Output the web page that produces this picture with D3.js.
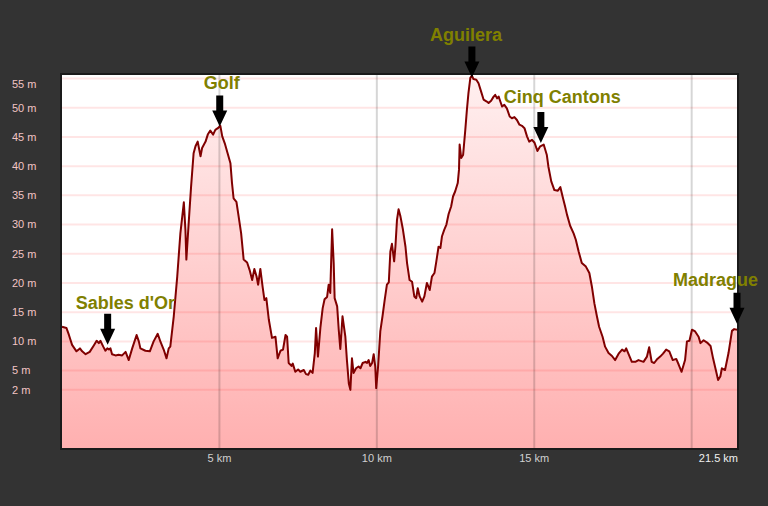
<!DOCTYPE html>
<html>
<head>
<meta charset="utf-8">
<script src="https://cdn.jsdelivr.net/npm/d3@7"></script>
<style>
  html, body { margin: 0; padding: 0; background: #333333; }
  svg { display: block; }
</style>
</head>
<body>
<svg id="chart" width="768" height="506"></svg>
<script>
// ---- Data ----
const distKm = [0.00,0.14,0.22,0.32,0.46,0.57,0.64,0.75,0.88,1.01,
1.10,1.17,1.22,1.31,1.38,1.44,1.49,1.54,1.59,1.70,
1.80,1.91,2.02,2.12,2.23,2.37,2.44,2.49,2.65,2.79,
2.91,3.04,3.13,3.23,3.32,3.39,3.44,3.55,3.66,3.76,
3.87,3.92,3.95,4.03,4.10,4.18,4.24,4.31,4.40,4.45,
4.56,4.63,4.71,4.80,4.87,4.95,5.03,5.09,5.17,5.26,
5.35,5.40,5.45,5.54,5.61,5.69,5.77,5.88,5.96,6.04,
6.11,6.18,6.23,6.30,6.37,6.43,6.49,6.57,6.67,6.78,
6.85,6.94,7.02,7.10,7.15,7.20,7.29,7.33,7.41,7.50,
7.57,7.68,7.75,7.82,7.89,7.96,8.03,8.07,8.13,8.21,
8.28,8.34,8.42,8.47,8.52,8.58,8.63,8.66,8.74,8.79,
8.84,8.91,9.00,9.05,9.11,9.16,9.21,9.26,9.34,9.42,
9.48,9.55,9.64,9.69,9.74,9.79,9.85,9.90,9.95,9.98,
10.04,10.11,10.18,10.25,10.32,10.38,10.43,10.48,10.55,10.59,
10.64,10.69,10.75,10.83,10.91,10.96,11.04,11.12,11.19,11.25,
11.30,11.36,11.44,11.51,11.59,11.68,11.75,11.83,11.89,11.96,
12.02,12.07,12.14,12.21,12.28,12.36,12.42,12.49,12.57,12.61,
12.63,12.68,12.74,12.81,12.86,12.91,12.97,13.02,13.07,13.16,
13.23,13.31,13.39,13.48,13.55,13.63,13.71,13.76,13.82,13.87,
13.92,13.98,14.05,14.13,14.22,14.29,14.37,14.45,14.53,14.61,
14.69,14.77,14.84,14.93,15.01,15.10,15.19,15.30,15.40,15.45,
15.54,15.64,15.75,15.83,15.90,15.98,16.04,16.14,16.25,16.32,
16.41,16.51,16.64,16.75,16.83,16.91,16.99,17.06,17.17,17.25,
17.36,17.47,17.57,17.68,17.79,17.87,17.92,17.99,18.10,18.21,
18.31,18.47,18.58,18.65,18.73,18.81,18.91,19.00,19.09,19.19,
19.29,19.40,19.51,19.59,19.68,19.79,19.85,19.93,20.01,20.11,
20.22,20.28,20.38,20.49,20.60,20.68,20.78,20.84,20.91,20.96,
21.06,21.17,21.28,21.35,21.44];

const elevM = [12.5,12.3,11.1,9.4,8.3,8.8,8.3,7.8,8.2,9.3,
10.1,9.7,10.1,9.1,8.4,8.8,8.6,8.8,7.8,7.6,
7.7,7.6,8.2,6.8,8.8,11.1,10.0,8.8,8.4,8.3,
10.0,11.3,9.9,8.6,7.1,8.8,9.1,14.3,21.1,28.5,
33.8,29.1,24.0,30.8,36.5,42.2,43.4,44.2,41.7,43.1,
44.2,45.4,46.1,45.4,46.2,46.5,46.9,45.1,43.9,42.2,
40.5,37.1,34.5,33.9,31.4,28.5,24.0,23.5,22.2,20.5,
22.4,21.1,19.7,22.4,19.4,17.1,17.4,13.7,10.6,10.8,
7.1,8.4,8.6,11.1,10.8,6.3,5.8,6.2,4.8,5.2,
4.8,5.1,4.4,4.3,5.0,4.6,8.0,12.3,7.4,12.5,
15.7,17.2,17.6,19.7,18.3,29.2,23.4,17.4,16.0,12.0,
8.7,14.3,10.8,6.8,2.8,1.7,7.1,4.6,5.4,5.7,
5.4,6.3,6.5,6.3,6.8,5.8,6.3,7.8,5.7,2.0,
5.7,11.7,14.3,17.1,19.7,20.1,25.4,26.7,23.7,26.2,
30.8,32.6,31.4,29.1,26.2,23.4,20.5,20.2,17.7,17.4,
19.1,17.7,16.8,17.7,20.0,18.8,21.1,21.7,23.7,26.2,
26.0,28.0,29.1,30.0,31.8,33.1,34.8,35.7,37.1,39.4,
43.7,41.4,41.9,46.2,49.6,52.5,55.1,55.5,54.9,54.8,
54.2,52.8,51.4,51.1,50.8,51.2,51.9,52.2,51.6,51.9,
51.1,50.2,50.5,49.9,48.5,48.2,48.4,47.9,47.1,46.9,
46.5,45.1,44.2,44.5,44.0,42.6,43.4,43.7,41.9,39.9,
37.4,35.9,35.8,36.4,34.8,33.1,31.7,29.8,28.5,27.4,
25.4,23.4,22.8,21.7,19.4,16.5,14.3,12.5,10.8,9.1,
8.0,7.5,6.8,7.9,8.6,8.3,8.8,7.9,6.5,6.5,
6.8,6.5,7.4,9.0,6.5,6.3,7.0,7.4,7.9,8.6,
8.3,6.8,7.0,6.0,4.8,6.8,10.0,10.1,12.0,11.7,
10.8,9.7,10.2,9.8,9.2,7.1,4.8,3.4,4.0,5.4,
5.1,8.0,11.8,12.1,12.0];

const yTicks = [d3.min(elevM), 5, 10, 15, 20, 25, 30, 35, 40, 45, 50, 55];
const xTicks = [5, 10, 15, 20];
const totalLabel = "21.5 km";

const annNames = ["Sables d'Or", "Golf", "Aguilera", "Cinq Cantons", "Madrague"];
const annKm    = [1.45, 5.01, 13.02, 15.21, 21.44];

// ---- Layout (positions / styles) ----
const W = 768, H = 506;
const plot = { left: 62, right: 737, top: 75, bottom: 448 };
const annLayout = {
  dx:   [-32, -16, -42, -37, -64],   // text start relative to arrow x
  lift: [4, 0, -2, 3, 6],            // arrow tip above curve
  gap:  [5, 6, 6, 9, 7]              // text baseline above arrow top
};

const data = distKm.map((d, i) => ({ km: d, m: elevM[i] }));

const x = d3.scaleLinear().domain([0, d3.max(distKm)]).range([plot.left, plot.right]);
const y = d3.scaleLinear().domain([-8.25, 55.6]).range([plot.bottom, plot.top]);

const svg = d3.select("#chart");

svg.append("rect").attr("width", W).attr("height", H).attr("fill", "#333333");

const defs = svg.append("defs");
const grad = defs.append("linearGradient")
  .attr("id", "fillGrad").attr("gradientUnits", "userSpaceOnUse")
  .attr("x1", 0).attr("x2", 0).attr("y1", plot.top).attr("y2", plot.bottom);
grad.append("stop").attr("offset", "0%").attr("stop-color", "#fff0f0");
grad.append("stop").attr("offset", "100%").attr("stop-color", "#ffb0b0");

// plot background
svg.append("rect")
  .attr("x", plot.left).attr("y", plot.top)
  .attr("width", plot.right - plot.left).attr("height", plot.bottom - plot.top)
  .attr("fill", "#ffffff");

// area fill
const area = d3.area()
  .x(d => x(d.km)).y0(plot.bottom).y1(d => y(d.m));
svg.append("path").datum(data).attr("d", area).attr("fill", "url(#fillGrad)");

// horizontal grid
svg.append("g").selectAll("line").data(yTicks).join("line")
  .attr("x1", plot.left).attr("x2", plot.right)
  .attr("y1", d => y(d)).attr("y2", d => y(d))
  .attr("stroke", "rgba(255,0,0,0.1)").attr("stroke-width", 2);

// vertical grid
svg.append("g").selectAll("line").data(xTicks).join("line")
  .attr("x1", d => x(d)).attr("x2", d => x(d))
  .attr("y1", plot.top).attr("y2", plot.bottom)
  .attr("stroke", "rgba(0,0,0,0.16)").attr("stroke-width", 2);

// profile line
const line = d3.line().x(d => x(d.km)).y(d => y(d.m));
svg.append("path").datum(data).attr("d", line)
  .attr("fill", "none").attr("stroke", "#800000")
  .attr("stroke-width", 2).attr("stroke-linejoin", "round");

// plot border
svg.append("rect")
  .attr("x", plot.left - 1).attr("y", plot.top - 1)
  .attr("width", plot.right - plot.left + 2).attr("height", plot.bottom - plot.top + 2)
  .attr("fill", "none").attr("stroke", "#1a1a1a").attr("stroke-width", 2);

// y labels
svg.append("g").selectAll("text").data(yTicks).join("text")
  .attr("x", 12)
  .attr("y", d => Math.max(y(d), plot.top + 9))
  .attr("dy", "0.35em")
  .attr("fill", "#f2c4c4")
  .attr("font-family", "'Liberation Sans', Arial, sans-serif")
  .attr("font-size", 11)
  .text(d => Math.round(d) + " m");

// x labels
const xMaxPx = x.range()[1];
svg.append("g").selectAll("text")
  .data(xTicks.filter(t => xMaxPx - x(t) > 50)).join("text")
  .attr("x", d => x(d)).attr("y", 462)
  .attr("text-anchor", "middle")
  .attr("fill", "#d0d0d0")
  .attr("font-family", "'Liberation Sans', Arial, sans-serif")
  .attr("font-size", 11)
  .text(d => d + " km");
svg.append("text")
  .attr("x", xMaxPx + 1).attr("y", 462)
  .attr("text-anchor", "end")
  .attr("fill", "#f0f0f0")
  .attr("font-family", "'Liberation Sans', Arial, sans-serif")
  .attr("font-size", 11)
  .text(totalLabel);

// annotations
const bis = d3.bisector(d => d.km).left;
function elevAt(km) {
  const i = Math.min(Math.max(bis(data, km), 1), data.length - 1);
  const a = data[i - 1], b = data[i];
  const t = (km - a.km) / (b.km - a.km || 1);
  return a.m + Math.max(0, Math.min(1, t)) * (b.m - a.m);
}
const ann = svg.append("g");
annNames.forEach((name, i) => {
  const ax = x(annKm[i]);
  const tip = y(elevAt(annKm[i])) - annLayout.lift[i];
  const top = tip - 31;
  const p = d3.path();
  p.moveTo(ax - 3.5, top);
  p.lineTo(ax + 3.5, top);
  p.lineTo(ax + 3.5, tip - 16);
  p.lineTo(ax + 7.5, tip - 16);
  p.lineTo(ax, tip);
  p.lineTo(ax - 7.5, tip - 16);
  p.lineTo(ax - 3.5, tip - 16);
  p.closePath();
  ann.append("path").attr("d", p.toString()).attr("fill", "#000000");
  ann.append("text")
    .attr("x", ax + annLayout.dx[i]).attr("y", top - annLayout.gap[i])
    .attr("fill", "#808000")
    .attr("font-family", "'Liberation Sans', Arial, sans-serif")
    .attr("font-weight", "bold")
    .attr("font-size", 18)
    .text(name);
});
</script>
</body>
</html>
